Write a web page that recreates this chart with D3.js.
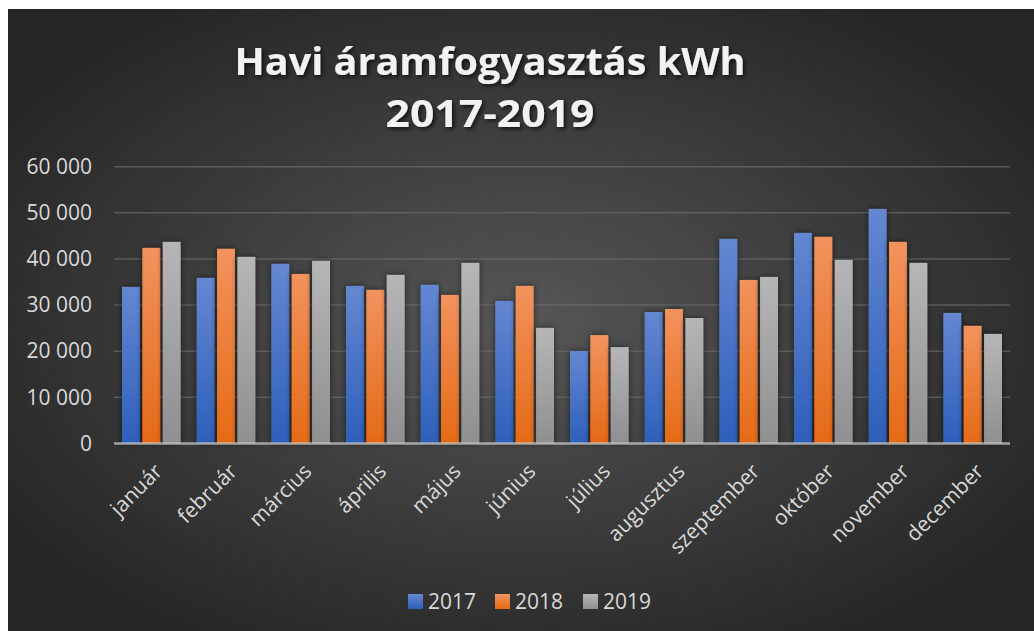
<!DOCTYPE html>
<html>
<head>
<meta charset="utf-8">
<script src="https://cdn.jsdelivr.net/npm/d3@7"></script>
<style>
  body { margin: 0; background: #fff; }
  svg text { font-family: "Open Sans", sans-serif; }
</style>
</head>
<body>
<svg id="chart" width="1034" height="631"></svg>
<script>
// 데이터
const months = ["január", "február", "március", "április", "május", "június",
  "július", "augusztus", "szeptember", "október", "november", "december"];
const years = ["2017", "2018", "2019"];
const values2017 = [33950, 35900, 38950, 34150, 34400, 30900, 20050, 28500, 44350, 45650, 50850, 28300];
const values2018 = [42400, 42200, 36750, 33300, 32200, 34150, 23500, 29150, 35450, 44800, 43700, 25500];
const values2019 = [43700, 40450, 39600, 36550, 39150, 25050, 20900, 27200, 36100, 39800, 39150, 23750];
const yTicks = [0, 10000, 20000, 30000, 40000, 50000, 60000];

const seriesData = [values2017, values2018, values2019];
const colors = [
  { top: "#6587d1", bottom: "#2d5fbb" },
  { top: "#f2935e", bottom: "#e56a16" },
  { top: "#b6b6b6", bottom: "#8f8f8f" }
];

const svg = d3.select("#chart");
const margin = { top: 166.7, right: 24, bottom: 187.5, left: 114 };
const width = 1010 - margin.left;
const height = 443.5 - margin.top;

const defs = svg.append("defs");

// 배경 그라디언트
const bg = defs.append("radialGradient").attr("id", "bg")
  .attr("cx", "50%").attr("cy", "50%").attr("r", "60%");
bg.append("stop").attr("offset", "0%").attr("stop-color", "#565656");
bg.append("stop").attr("offset", "100%").attr("stop-color", "#262626");

colors.forEach((c, i) => {
  const g = defs.append("linearGradient").attr("id", "bar" + i)
    .attr("x1", 0).attr("y1", 0).attr("x2", 0).attr("y2", 1);
  g.append("stop").attr("offset", "0%").attr("stop-color", c.top);
  g.append("stop").attr("offset", "100%").attr("stop-color", c.bottom);
});

const shadow = defs.append("filter").attr("id", "shadow")
  .attr("x", "-30%").attr("y", "-10%").attr("width", "160%").attr("height", "120%");
shadow.append("feDropShadow").attr("dx", 0).attr("dy", 0).attr("stdDeviation", 3)
  .attr("flood-color", "#000").attr("flood-opacity", 0.55);

const titleShadow = defs.append("filter").attr("id", "tshadow");
titleShadow.append("feDropShadow").attr("dx", 2).attr("dy", 2).attr("stdDeviation", 2)
  .attr("flood-color", "#000").attr("flood-opacity", 0.7);

svg.append("rect")
  .attr("x", 8).attr("y", 9).attr("width", 1026).attr("height", 622)
  .attr("fill", "url(#bg)");

// 제목
const titleLines = ["Havi áramfogyasztás kWh", "2017-2019"];
const titleWidths = [511, 209];
svg.selectAll(".title")
  .data(titleLines)
  .enter()
  .append("text")
  .attr("class", "title")
  .attr("x", 490)
  .attr("y", (d, i) => 75 + i * 52)
  .attr("text-anchor", "middle")
  .attr("textLength", (d, i) => titleWidths[i])
  .attr("lengthAdjust", "spacingAndGlyphs")
  .style("font-size", "37px")
  .style("font-weight", "bold")
  .attr("fill", "#f2f2f2")
  .attr("filter", "url(#tshadow)")
  .text(d => d);

// 스케일
const x0 = d3.scaleBand().domain(months).range([0, width]);
const x1 = d3.scaleBand().domain(years).range([8, x0.bandwidth() - 8]).paddingInner(0.12);
const y = d3.scaleLinear().domain([0, 60000]).range([height, 0]);

const g = svg.append("g").attr("transform", `translate(${margin.left},${margin.top})`);

// 격자선
g.selectAll(".grid")
  .data(yTicks.filter(d => d > 0))
  .enter()
  .append("line")
  .attr("x1", 0).attr("x2", width)
  .attr("y1", d => y(d)).attr("y2", d => y(d))
  .attr("stroke", "#6e6e6e").attr("stroke-opacity", 0.65).attr("stroke-width", 1.5);

// Y축 레이블
const yAxis = g.append("g")
  .call(d3.axisLeft(y).tickValues(yTicks).tickSize(0).tickPadding(22)
    .tickFormat(d => d3.format(",")(d).replace(/,/g, " ")));
yAxis.select(".domain").remove();
yAxis.selectAll("text")
  .style("font-family", "'Open Sans', sans-serif")
  .style("font-size", "21px")
  .attr("fill", "#d9d9d9");

// 막대
const groups = g.selectAll(".month")
  .data(months)
  .enter()
  .append("g")
  .attr("transform", d => `translate(${x0(d)},0)`);

groups.selectAll("rect")
  .data((m, mi) => years.map((yr, si) => ({ yr, si, value: seriesData[si][mi] })))
  .enter()
  .append("rect")
  .attr("x", d => x1(d.yr))
  .attr("y", d => y(d.value))
  .attr("width", x1.bandwidth())
  .attr("height", d => height - y(d.value))
  .attr("fill", d => `url(#bar${d.si})`)
  .attr("filter", "url(#shadow)");

// X축 선
g.append("line")
  .attr("x1", 0).attr("x2", width)
  .attr("y1", height).attr("y2", height)
  .attr("stroke", "#c8c8c8").attr("stroke-opacity", 0.75).attr("stroke-width", 2.5);

// X축 레이블 (회전)
g.selectAll(".mlabel")
  .data(months)
  .enter()
  .append("text")
  .attr("class", "mlabel")
  .attr("transform", d => `translate(${x0(d) + x0.bandwidth() / 2 + 7},${height + 24}) rotate(-45)`)
  .attr("text-anchor", "end")
  .attr("dy", "0.35em")
  .style("font-size", "21px")
  .attr("fill", "#d9d9d9")
  .text(d => d);

// 범례
const legendX = [408, 495, 583];
const legend = svg.selectAll(".legend")
  .data(years)
  .enter()
  .append("g")
  .attr("transform", (d, i) => `translate(${legendX[i]},594)`);

legend.append("rect")
  .attr("width", 15).attr("height", 15)
  .attr("fill", (d, i) => `url(#bar${i})`);

legend.append("text")
  .attr("x", 20).attr("y", 15)
  .style("font-size", "21px")
  .attr("fill", "#d9d9d9")
  .text(d => d);
</script>
</body>
</html>
